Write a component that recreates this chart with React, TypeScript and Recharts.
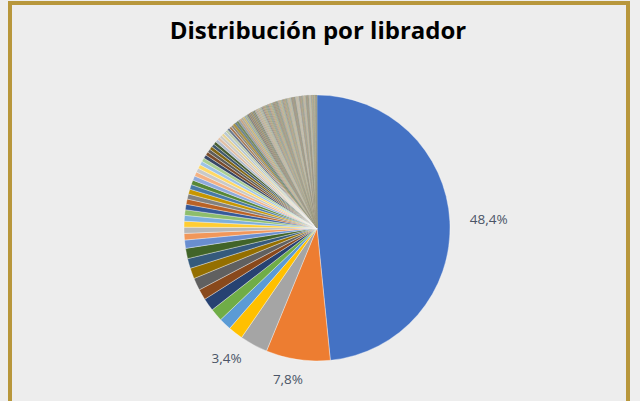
import React from 'react';
import { PieChart, Pie, Cell } from 'recharts';

// cuota de cada librador (%), en orden horario desde las 12
const mainShares = [48.4, 7.8, 3.4, 1.8, 1.5, 1.55, 1.55, 1.3, 1.5, 1.3, 1.2, 1.25, 1.0, 0.8];
const midShares = [
  0.75, 0.72, 0.7, 0.68, 0.66, 0.64, 0.62, 0.6, 0.58, 0.56, 0.54, 0.52, 0.5,
  0.48, 0.46, 0.45, 0.44, 0.42, 0.41, 0.4, 0.38, 0.37, 0.36, 0.35, 0.34, 0.33, 0.32, 0.31, 0.3,
  0.29, 0.28, 0.27, 0.26, 0.25, 0.24, 0.23, 0.22, 0.21, 0.2,
];
const smallShares = [
  0.19, 0.19, 0.18, 0.18, 0.17, 0.17, 0.16, 0.16, 0.15, 0.15,
  0.15, 0.14, 0.14, 0.14, 0.13, 0.13, 0.13, 0.12, 0.12, 0.12,
  0.12, 0.11, 0.11, 0.11, 0.11, 0.1, 0.1, 0.1, 0.1, 0.1,
  0.1, 0.1, 0.1, 0.1, 0.1, 0.1, 0.1, 0.1, 0.1, 0.1,
];
const tailShares = [
  0.09, 0.09, 0.09, 0.09, 0.09, 0.09, 0.09, 0.09, 0.09, 0.09,
  0.08, 0.08, 0.08, 0.08, 0.08, 0.08, 0.08, 0.08, 0.08, 0.08,
  0.07, 0.07, 0.07, 0.07, 0.07, 0.07, 0.07, 0.07, 0.07, 0.07,
  0.06, 0.06, 0.06, 0.06, 0.06, 0.06, 0.06, 0.06, 0.06, 0.06,
  0.05, 0.05, 0.05, 0.05, 0.05, 0.05, 0.05, 0.05, 0.05, 0.05,
  0.04, 0.04, 0.04, 0.04, 0.04, 0.04, 0.03, 0.03, 0.03, 0.03,
  0.02, 0.02, 0.02, 0.01,
];

const shares = [...mainShares, ...midShares, ...smallShares, ...tailShares];
const data = shares.map((v, i) => ({ name: `Librador ${i + 1}`, value: v }));

// paleta tipo Office: 6 acentos y variantes oscuras/claras por vuelta,
// que en las vueltas altas tiran a un gris caqui
const BASE = [[68, 114, 196], [237, 125, 49], [165, 165, 165], [255, 192, 0], [91, 155, 213], [112, 173, 71]];
const KHAKI = [172, 166, 146];
const VARIANTS = [
  { t: 0 }, { s: 0.58 }, { t: 0.2 }, { s: 0.78 }, { t: 0.4 }, { s: 0.48 }, { t: 0.6 }, { s: 0.68 },
  { t: 0.3 }, { s: 0.5 }, { t: 0.5 }, { s: 0.85 },
];
const colorFor = (i: number) => {
  const cycle = Math.floor(i / 6);
  const v: any = VARIANTS[cycle % VARIANTS.length];
  const mix = Math.min(Math.max((cycle - 4) * 0.15, 0), 0.72);
  return `rgb(${BASE[i % 6]
    .map((c, k) => {
      const vc = v.s !== undefined ? c * v.s : c + (255 - c) * v.t;
      return Math.round(vc * (1 - mix) + KHAKI[k] * mix);
    })
    .join(', ')})`;
};

// colocación de las etiquetas visibles (desfase angular y distancia al borde)
const labelPlacement: Record<number, { shift: number; gap: number }> = {
  0: { shift: 0, gap: 39 },
  1: { shift: 2.6, gap: 21 },
  2: { shift: 6.5, gap: 25 },
};

const renderLabel = (props: any) => {
  const { cx, cy, midAngle, outerRadius, percent, index } = props;
  const p = labelPlacement[index];
  if (!p) return null;
  const a = ((midAngle - p.shift) * Math.PI) / 180;
  const r = outerRadius + p.gap;
  return (
    <text
      x={cx + r * Math.cos(a)}
      y={cy - r * Math.sin(a)}
      textAnchor="middle"
      dominantBaseline="central"
      fill="#4b5567"
      fontSize={13.5}
      fontFamily="'Open Sans', sans-serif"
    >
      {(percent * 100).toFixed(1).replace('.', ',')}%
    </text>
  );
};

export default function App() {
  return (
    <div style={{ position: 'absolute', left: 0, top: 0, width: 640, height: 401, background: '#eeeeee', overflow: 'hidden' }}>
      <div
        style={{
          position: 'absolute', left: 8, top: 1, width: 614, height: 420,
          border: '4px solid #b8973c', background: '#ededed',
        }}
      />
      <div
        style={{
          position: 'absolute', left: 0, top: 13, width: 636, textAlign: 'center',
          fontFamily: "'Open Sans', sans-serif", fontWeight: 700, fontSize: 24, color: '#000',
        }}
      >
        Distribución por librador
      </div>
      <div style={{ position: 'absolute', left: 0, top: 0 }}>
        <PieChart width={640} height={401} margin={{ top: 0, right: 0, bottom: 0, left: 0 }}>
          <Pie
            data={data}
            dataKey="value"
            nameKey="name"
            cx={317}
            cy={228}
            outerRadius={133}
            startAngle={90}
            endAngle={-270}
            label={renderLabel}
            labelLine={false}
            isAnimationActive={false}
          >
            {data.map((d, i) => (
              <Cell
                key={d.name}
                fill={colorFor(i)}
                stroke={i < 45 ? '#ffffff' : colorFor(i)}
                strokeWidth={i < 45 ? 0.35 : 0.1}
              />
            ))}
          </Pie>
        </PieChart>
      </div>
    </div>
  );
}
